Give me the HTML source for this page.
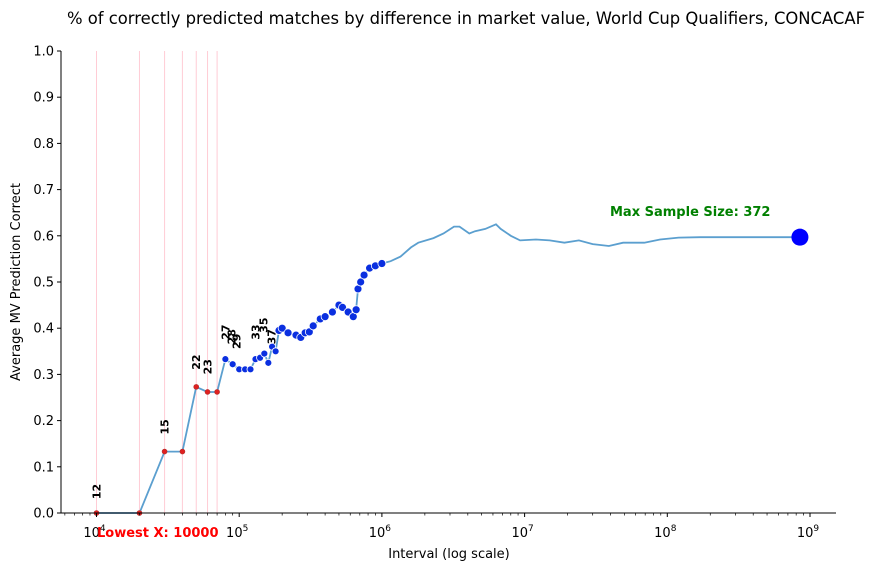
<!DOCTYPE html>
<html><head><meta charset="utf-8"><style>
html,body{margin:0;padding:0;background:#fff}
svg{display:block;font-family:"DejaVu Sans","Liberation Sans",sans-serif}
</style></head><body>
<svg id="chart" width="880" height="571" viewBox="0 0 880 571" xmlns="http://www.w3.org/2000/svg">
<text x="466" y="24" font-size="16.4" text-anchor="middle">% of correctly predicted matches by difference in market value, World Cup Qualifiers, CONCACAF</text>
<g id="grid"></g><g id="series"></g><g id="axes"></g><g id="ann"></g>
</svg>
<script>
const xValues=[10000,20000,30000,40000,50000,60000,70000,80000,90000,100000,110000,120000,130000,140000,150000,160000,170000,180000,190000,200000,220000,250000,270000,290000,310000,330000,370000,400000,450000,500000,530000,580000,630000,660000,680000,710000,750000,820000,900000,1000000,1150000,1350000,1600000,1800000,2300000,2700000,3200000,3500000,4100000,4500000,5300000,6300000,6800000,8000000,9300000,12000000,15000000,19000000,24000000,30000000,39000000,49000000,69000000,89000000,120000000,170000000,850000000];
const yValues=[0,0,0.133,0.133,0.273,0.262,0.262,0.333,0.322,0.311,0.311,0.311,0.333,0.336,0.345,0.325,0.36,0.35,0.395,0.40,0.39,0.385,0.38,0.39,0.392,0.405,0.42,0.425,0.435,0.45,0.445,0.435,0.425,0.44,0.485,0.50,0.515,0.53,0.535,0.54,0.545,0.555,0.575,0.585,0.595,0.605,0.62,0.62,0.605,0.61,0.615,0.625,0.615,0.60,0.59,0.592,0.59,0.585,0.59,0.582,0.578,0.585,0.585,0.592,0.596,0.597,0.597];
const redLines=[10000,20000,30000,40000,50000,60000,70000];
const labelX=[10000,30000,50000,60000,80000,88000,96000,130000,148000,168000];
const labelText=["12","15","22","23","27","28","29","33","35","37"];
const labelY=[0.03,0.17,0.31,0.30,0.375,0.365,0.355,0.375,0.39,0.365];
const yTicks=[0,0.1,0.2,0.3,0.4,0.5,0.6,0.7,0.8,0.9,1.0];
const xTickExp=[4,5,6,7,8,9];
const NS='http://www.w3.org/2000/svg';
const L=61,R=836,T=51,B=513;
const xs=v=>96.5+(Math.log10(v)-4)*142.7;
const ys=v=>B-v*(B-T);
function mk(tag,attrs,parent,txt){const e=document.createElementNS(NS,tag);for(const k in attrs)e.setAttribute(k,attrs[k]);if(txt!==undefined)e.textContent=txt;document.getElementById(parent).appendChild(e);return e;}
redLines.forEach(v=>{const e=mk('line',{x1:xs(v),x2:xs(v),y1:T,y2:B,stroke:'#ffc0cb','stroke-width':1,opacity:0.8},'grid');

});
const pts=xValues.map((v,i)=>xs(v).toFixed(1)+','+ys(yValues[i]).toFixed(1)).join(' ');
const ln=mk('polyline',{points:pts,fill:'none',stroke:'#5b9fcf','stroke-width':1.8},'series');


xValues.forEach((v,i)=>{
 if(i===xValues.length-1){const c=mk('circle',{cx:xs(v),cy:ys(yValues[i]),r:8.5,fill:'#0000ff'},'series');
 
 return;}
 if(v>1000000)return;
 const red=i<7;
 const c=mk('circle',{cx:xs(v),cy:ys(yValues[i]),r:red?2.5:(v>=190000?4:3.5),fill:red?'#e0201f':'#0a2fe0',stroke:red?'#b03030':'#fff','stroke-width':red?0.6:0.8},'series');
 
 
});
labelX.forEach((v,i)=>{const x=xs(v)+4,y=ys(labelY[i]);
 const t=mk('text',{x:x,y:y,'font-size':11,'font-weight':'bold',transform:`rotate(-90 ${x} ${y})`},'ann',labelText[i]);
 
 });
const ya=mk('line',{x1:L,x2:L,y1:T,y2:B,stroke:'#000','stroke-width':1},'axes');


const xa=mk('line',{x1:L,x2:R,y1:B,y2:B,stroke:'#000','stroke-width':1},'axes');


yTicks.forEach(v=>{mk('line',{x1:L-4,x2:L,y1:ys(v),y2:ys(v),stroke:'#000'},'axes');
 const t=mk('text',{x:L-7,y:ys(v)+4.5,'font-size':13,'text-anchor':'end'},'axes',v.toFixed(1));
 
 });
for(let e=3;e<=9;e++){for(let m=1;m<10;m++){const v=m*Math.pow(10,e);const x=xs(v);if(x<L||x>R)continue;
 mk('line',{x1:x,x2:x,y1:B,y2:B+(m===1?4:2.5),stroke:'#000','stroke-width':m===1?1:0.7},'axes');}}
xTickExp.forEach(e=>{const x=xs(Math.pow(10,e));
 const t=mk('text',{x:x-2,y:B+24,'font-size':13,'text-anchor':'middle'},'axes');
 
 
 const a=document.createElementNS(NS,'tspan');a.textContent='10';t.appendChild(a);
 const b=document.createElementNS(NS,'tspan');b.setAttribute('dy','-6');b.setAttribute('font-size','9');b.textContent=String(e);t.appendChild(b);});
</script>
<script>
const s=document.getElementById('chart');
function tx(attrs,txt,name){const e=document.createElementNS('http://www.w3.org/2000/svg','text');for(const k in attrs)e.setAttribute(k,attrs[k]);e.textContent=txt;


s.appendChild(e);}
tx({x:449,y:558,'font-size':13,'text-anchor':'middle'},'Interval (log scale)','x-axis-title');
tx({x:20,y:282,'font-size':13,'text-anchor':'middle',transform:'rotate(-90 20 282)'},'Average MV Prediction Correct','y-axis-title');
tx({x:610,y:216,'font-size':13,'font-weight':'bold',fill:'#008000'},'Max Sample Size: 372','max-sample-annotation');
tx({x:97,y:537,'font-size':13,'font-weight':'bold',fill:'#ff0000'},'Lowest X: 10000','lowest-x-annotation');
</script>
</body></html>
